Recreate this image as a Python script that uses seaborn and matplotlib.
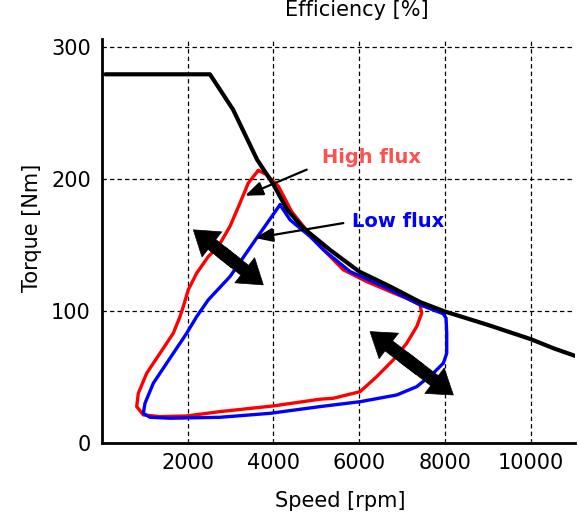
import matplotlib
matplotlib.use("Agg")
import matplotlib.pyplot as plt
import seaborn as sns
import pandas as pd

# ---------------- data ----------------
envelope_speed = [80, 2520, 3060, 3620, 3990, 4320, 4700, 5320, 6000, 6720,
                  7420, 8000, 9000, 10000, 10530, 11080]
envelope_torque = [279.5, 279.5, 252.7, 214.8, 196.6, 177.0, 163.0, 146.5,
                   130.1, 118.8, 107.0, 99.8, 89.7, 78.9, 72.0, 65.7]

high_speed = [3648, 3415, 3221, 2987, 2715, 2482, 2211, 2015, 1899, 1822,
              1665, 1355, 1045, 849, 812, 966, 1355, 1978, 2755, 3998,
              5087, 5397, 6020, 6409, 6796, 7109, 7342, 7459, 7419, 7186,
              6720, 6176, 5630, 5243, 4894, 4614, 4427, 4117, 3844, 3648]
high_torque = [206.7, 197.2, 182.0, 164.3, 149.1, 141.5, 128.9, 116.3, 103.6, 96.0,
               83.4, 68.2, 53.1, 37.9, 27.8, 21.5, 20.2, 20.7, 24.0, 28.3,
               33.4, 34.1, 39.1, 50.5, 63.2, 75.8, 88.4, 98.6, 104.9, 108.7,
               115.0, 122.5, 131.4, 144.1, 156.7, 167.8, 175.4, 194.6, 203.5, 206.7]

low_speed = [4154, 3610, 2988, 2482, 2211, 1978, 1511, 1199, 1005, 966,
             1122, 1588, 2755, 3921, 5087, 6020, 6876, 7342, 7729, 7963,
             8042, 8042, 8026, 7963, 7419, 6563, 5787, 5164, 4854, 4387, 4154]
low_torque = [180.7, 155.5, 126.3, 108.7, 96.0, 83.4, 60.7, 45.5, 30.3, 22.7,
              19.7, 19.0, 19.7, 22.7, 27.8, 31.5, 36.6, 42.9, 53.1, 60.7,
              68.2, 83.4, 94.8, 98.1, 104.9, 118.8, 130.1, 146.6, 156.7, 169.3, 180.7]

x_ticks = [2000, 4000, 6000, 8000, 10000]
y_ticks = [0, 100, 200, 300]

# annotation anchors (data coords)
high_label_pos = (6297, 216.4)
high_arrow_from = (4777, 207.3)
high_arrow_to = (3338, 187.5)
low_label_pos = (6904, 167.8)
low_arrow_from = (5630, 166.8)
low_arrow_to = (3571, 155.5)
shift_arrow_1 = [(2132, 161.7), (3764, 120.0)]
shift_arrow_2 = [(6253, 84.6), (8196, 36.6)]

# ---------------- figure ----------------
sns.set_theme(style="white")
plt.rcParams["font.family"] = ["DejaVu Sans"]

fig = plt.figure(figsize=(5.78, 5.16), dpi=100)
ax = fig.add_axes([0.1763, 0.1409, 0.819, 0.7829])

env = pd.DataFrame({"speed": envelope_speed, "torque": envelope_torque})
hi = pd.DataFrame({"speed": high_speed, "torque": high_torque})
lo = pd.DataFrame({"speed": low_speed, "torque": low_torque})

sns.lineplot(data=hi, x="speed", y="torque", sort=False, estimator=None,
             color="#ff0000", lw=2.4, ax=ax, zorder=3)
sns.lineplot(data=lo, x="speed", y="torque", sort=False, estimator=None,
             color="#0000ff", lw=2.4, ax=ax, zorder=3)
sns.lineplot(data=env, x="speed", y="torque", sort=False, estimator=None,
             color="black", lw=3.0, ax=ax, zorder=4)
for line in ax.get_lines():
    line.set_solid_joinstyle("round")

ax.set_xlim(0, 11040)
ax.set_ylim(0, 306)
ax.set_xticks(x_ticks)
ax.set_yticks(y_ticks)
ax.set_xticklabels([str(v) for v in x_ticks])
ax.set_yticklabels([str(v) for v in y_ticks])
ax.tick_params(axis="both", length=0, labelsize=15, colors="black")
ax.tick_params(axis="x", pad=7)
ax.tick_params(axis="y", pad=8)

for s in ["top", "right"]:
    ax.spines[s].set_visible(False)
for s in ["left", "bottom"]:
    ax.spines[s].set_color("black")
    ax.spines[s].set_linewidth(2.0)

ax.grid(True, color="black", linestyle=(0, (3.5, 2.5)), linewidth=0.9)
ax.set_axisbelow(True)

ax.set_xlabel("Speed [rpm]", fontsize=15, color="black")
ax.set_ylabel("Torque [Nm]", fontsize=15, color="black")
ax.xaxis.label.set_va("center")
ax.yaxis.label.set_va("center")
ax.xaxis.set_label_coords(0.503, -0.143)
ax.yaxis.set_label_coords(-0.147, 0.533)
ax.set_title("Efficiency [%]", fontsize=15, color="black", x=0.539, y=1.0527,
             va="center")

# labels and pointer arrows
ax.text(*high_label_pos, "High flux", color="#ff5050", fontsize=14,
        fontweight="bold", ha="center", va="center", zorder=6)
ax.text(*low_label_pos, "Low flux", color="#0000ff", fontsize=14,
        fontweight="bold", ha="center", va="center", zorder=6)
for a, b in [(high_arrow_from, high_arrow_to), (low_arrow_from, low_arrow_to)]:
    ax.annotate("", xy=b, xytext=a,
                arrowprops=dict(arrowstyle="-|>,head_length=0.9,head_width=0.35",
                                mutation_scale=12, lw=1.6, color="black",
                                shrinkA=0, shrinkB=0), zorder=6)

# fat double arrows: two filled halves, overlapping around the midpoint
for p, q in [shift_arrow_1, shift_arrow_2]:
    for end, other in ((p, q), (q, p)):
        start = (end[0] + 0.6 * (other[0] - end[0]), end[1] + 0.6 * (other[1] - end[1]))
        ax.annotate("", xy=end, xytext=start,
                    arrowprops=dict(arrowstyle="simple,head_length=1.7,head_width=2.3,tail_width=0.9",
                                    mutation_scale=10, lw=0.5, fc="black", ec="black",
                                    shrinkA=0, shrinkB=0), zorder=7)

fig.savefig("out.png", dpi=100)
